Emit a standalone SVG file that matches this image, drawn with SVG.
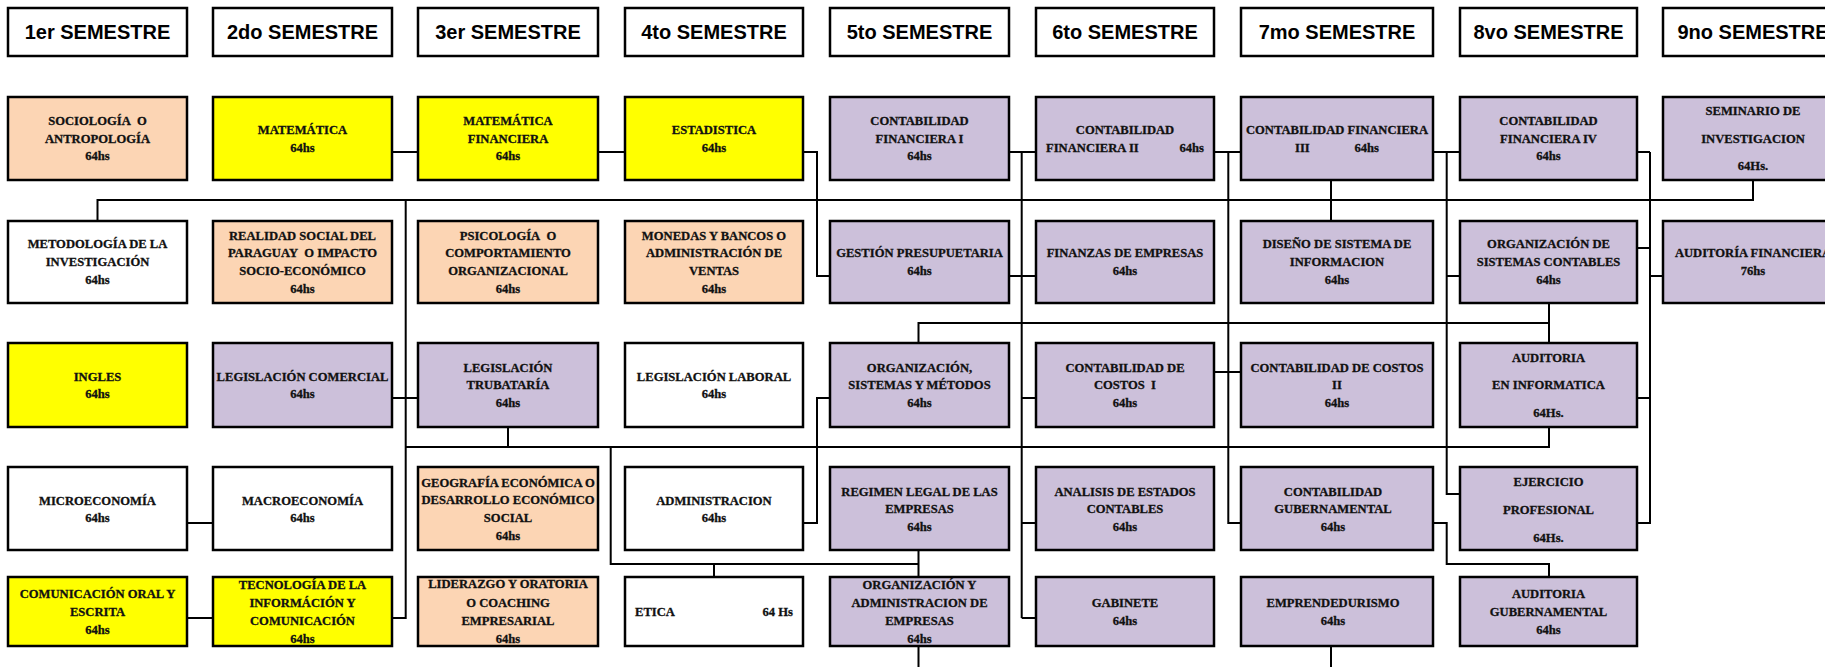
<svg xmlns="http://www.w3.org/2000/svg" width="1825" height="667" viewBox="0 0 1825 667">
<style>
.bx{stroke:#000;stroke-width:2.5}
.w{fill:#fff}.p{fill:#FCD5B4}.y{fill:#FFFF00}.l{fill:#CCC0DA}
.ht{font-family:"Liberation Sans",Arial,sans-serif;font-weight:bold;font-size:20px;text-anchor:middle;fill:#000}
.t{font-family:"Liberation Serif","Times New Roman",serif;font-weight:bold;font-size:12.6px;text-anchor:middle;fill:#111;stroke:#111;stroke-width:0.3}
.s{text-anchor:start}.e{text-anchor:end}
.c path{fill:none;stroke:#000;stroke-width:2}
</style>
<rect width="1825" height="667" fill="#fff"/>
<g id="headers">
<g id="h1"><rect class="bx w" x="8" y="8" width="179" height="48"/><text class="ht" x="97.5" y="39">1er SEMESTRE</text></g>
<g id="h2"><rect class="bx w" x="213" y="8" width="179" height="48"/><text class="ht" x="302.5" y="39">2do SEMESTRE</text></g>
<g id="h3"><rect class="bx w" x="418" y="8" width="180" height="48"/><text class="ht" x="508" y="39">3er SEMESTRE</text></g>
<g id="h4"><rect class="bx w" x="625" y="8" width="178" height="48"/><text class="ht" x="714" y="39">4to SEMESTRE</text></g>
<g id="h5"><rect class="bx w" x="830" y="8" width="179" height="48"/><text class="ht" x="919.5" y="39">5to SEMESTRE</text></g>
<g id="h6"><rect class="bx w" x="1036" y="8" width="178" height="48"/><text class="ht" x="1125" y="39">6to SEMESTRE</text></g>
<g id="h7"><rect class="bx w" x="1241" y="8" width="192" height="48"/><text class="ht" x="1337" y="39">7mo SEMESTRE</text></g>
<g id="h8"><rect class="bx w" x="1460" y="8" width="177" height="48"/><text class="ht" x="1548.5" y="39">8vo SEMESTRE</text></g>
<g id="h9"><rect class="bx w" x="1663" y="8" width="180" height="48"/><text class="ht" x="1753" y="39">9no SEMESTRE</text></g>
</g>
<g class="c" id="connectors">
<path d="M97.5,221V200H1753V180"/>
<path d="M392,152H418M598,152H625"/>
<path d="M803,152H817V276H830"/>
<path d="M405.7,200V618H392M392,398H418"/>
<path d="M405.7,447H1549V427M508,427V447"/>
<path d="M610.7,447V564H918.5M714,564V577M918.5,550V577M918.5,646V667"/>
<path d="M803,523H817V398H830"/>
<path d="M1021.7,152V618M1009,152H1036M1009,276H1036M1021.7,398H1036M1021.7,523H1036M1021.7,618H1036"/>
<path d="M918.5,343V323H1549M1549,303V343"/>
<path d="M1228.3,152V523H1241M1214,152H1241M1214,372H1241"/>
<path d="M1331,180V221M1331,646V667"/>
<path d="M1446.7,152V494H1460M1433,152H1460M1446.7,276H1460"/>
<path d="M1433,523H1446.7V564H1549V577"/>
<path d="M1650,152V523H1637M1637,152H1650M1637,248H1650M1650,276H1663M1637,398H1650"/>
<path d="M187,523H213M187,618H213"/>
</g>
<g id="n-r1c1"><rect class="bx p" x="8" y="97" width="179" height="83"/><text class="t"><tspan x="97.5" y="125">SOCIOLOGÍA&#160; O</tspan><tspan x="97.5" y="142.7">ANTROPOLOGÍA</tspan><tspan x="97.5" y="160.3">64hs</tspan></text></g>
<g id="n-r1c2"><rect class="bx y" x="213" y="97" width="179" height="83"/><text class="t"><tspan x="302.5" y="134">MATEMÁTICA</tspan><tspan x="302.5" y="152">64hs</tspan></text></g>
<g id="n-r1c3"><rect class="bx y" x="418" y="97" width="180" height="83"/><text class="t"><tspan x="508" y="125">MATEMÁTICA</tspan><tspan x="508" y="142.7">FINANCIERA</tspan><tspan x="508" y="160.3">64hs</tspan></text></g>
<g id="n-r1c4"><rect class="bx y" x="625" y="97" width="178" height="83"/><text class="t"><tspan x="714" y="134">ESTADISTICA</tspan><tspan x="714" y="152">64hs</tspan></text></g>
<g id="n-r1c5"><rect class="bx l" x="830" y="97" width="179" height="83"/><text class="t"><tspan x="919.5" y="125">CONTABILIDAD</tspan><tspan x="919.5" y="142.7">FINANCIERA I</tspan><tspan x="919.5" y="160.3">64hs</tspan></text></g>
<g id="n-r1c6"><rect class="bx l" x="1036" y="97" width="178" height="83"/><text class="t" x="1125" y="134">CONTABILIDAD</text><text class="t s" x="1046" y="152">FINANCIERA II</text><text class="t e" x="1204" y="152">64hs</text></g>
<g id="n-r1c7"><rect class="bx l" x="1241" y="97" width="192" height="83"/><text class="t" x="1337" y="134">CONTABILIDAD FINANCIERA</text><text class="t s" x="1295" y="152">III</text><text class="t e" x="1379" y="152">64hs</text></g>
<g id="n-r1c8"><rect class="bx l" x="1460" y="97" width="177" height="83"/><text class="t"><tspan x="1548.5" y="125">CONTABILIDAD</tspan><tspan x="1548.5" y="142.7">FINANCIERA IV</tspan><tspan x="1548.5" y="160.3">64hs</tspan></text></g>
<g id="n-r1c9"><rect class="bx l" x="1663" y="97" width="180" height="83"/><text class="t"><tspan x="1753" y="115">SEMINARIO DE</tspan><tspan x="1753" y="142.7">INVESTIGACION</tspan><tspan x="1753" y="170">64Hs.</tspan></text></g>
<g id="n-r2c1"><rect class="bx w" x="8" y="221" width="179" height="82"/><text class="t"><tspan x="97.5" y="248.3">METODOLOGÍA DE LA</tspan><tspan x="97.5" y="266">INVESTIGACIÓN</tspan><tspan x="97.5" y="284">64hs</tspan></text></g>
<g id="n-r2c2"><rect class="bx p" x="213" y="221" width="179" height="82"/><text class="t"><tspan x="302.5" y="240">REALIDAD SOCIAL DEL</tspan><tspan x="302.5" y="257.3">PARAGUAY&#160; O IMPACTO</tspan><tspan x="302.5" y="275">SOCIO-ECONÓMICO</tspan><tspan x="302.5" y="292.7">64hs</tspan></text></g>
<g id="n-r2c3"><rect class="bx p" x="418" y="221" width="180" height="82"/><text class="t"><tspan x="508" y="240">PSICOLOGÍA&#160; O</tspan><tspan x="508" y="257.3">COMPORTAMIENTO</tspan><tspan x="508" y="275">ORGANIZACIONAL</tspan><tspan x="508" y="292.7">64hs</tspan></text></g>
<g id="n-r2c4"><rect class="bx p" x="625" y="221" width="178" height="82"/><text class="t"><tspan x="714" y="240">MONEDAS Y BANCOS O</tspan><tspan x="714" y="257.3">ADMINISTRACIÓN DE</tspan><tspan x="714" y="275">VENTAS</tspan><tspan x="714" y="292.7">64hs</tspan></text></g>
<g id="n-r2c5"><rect class="bx l" x="830" y="221" width="179" height="82"/><text class="t"><tspan x="919.5" y="257.3">GESTIÓN PRESUPUETARIA</tspan><tspan x="919.5" y="275">64hs</tspan></text></g>
<g id="n-r2c6"><rect class="bx l" x="1036" y="221" width="178" height="82"/><text class="t"><tspan x="1125" y="257.3">FINANZAS DE EMPRESAS</tspan><tspan x="1125" y="275">64hs</tspan></text></g>
<g id="n-r2c7"><rect class="bx l" x="1241" y="221" width="192" height="82"/><text class="t"><tspan x="1337" y="248.3">DISEÑO DE SISTEMA DE</tspan><tspan x="1337" y="266">INFORMACION</tspan><tspan x="1337" y="284">64hs</tspan></text></g>
<g id="n-r2c8"><rect class="bx l" x="1460" y="221" width="177" height="82"/><text class="t"><tspan x="1548.5" y="248.3">ORGANIZACIÓN DE</tspan><tspan x="1548.5" y="266">SISTEMAS CONTABLES</tspan><tspan x="1548.5" y="284">64hs</tspan></text></g>
<g id="n-r2c9"><rect class="bx l" x="1663" y="221" width="180" height="82"/><text class="t"><tspan x="1753" y="257.3">AUDITORÍA FINANCIERA</tspan><tspan x="1753" y="275">76hs</tspan></text></g>
<g id="n-r3c1"><rect class="bx y" x="8" y="343" width="179" height="84"/><text class="t"><tspan x="97.5" y="380.7">INGLES</tspan><tspan x="97.5" y="398.3">64hs</tspan></text></g>
<g id="n-r3c2"><rect class="bx l" x="213" y="343" width="179" height="84"/><text class="t"><tspan x="302.5" y="380.7">LEGISLACIÓN COMERCIAL</tspan><tspan x="302.5" y="398.3">64hs</tspan></text></g>
<g id="n-r3c3"><rect class="bx l" x="418" y="343" width="180" height="84"/><text class="t"><tspan x="508" y="371.7">LEGISLACIÓN</tspan><tspan x="508" y="389.3">TRUBATARÍA</tspan><tspan x="508" y="407.3">64hs</tspan></text></g>
<g id="n-r3c4"><rect class="bx w" x="625" y="343" width="178" height="84"/><text class="t"><tspan x="714" y="380.7">LEGISLACIÓN LABORAL</tspan><tspan x="714" y="398.3">64hs</tspan></text></g>
<g id="n-r3c5"><rect class="bx l" x="830" y="343" width="179" height="84"/><text class="t"><tspan x="919.5" y="371.7">ORGANIZACIÓN,</tspan><tspan x="919.5" y="389.3">SISTEMAS Y MÉTODOS</tspan><tspan x="919.5" y="407.3">64hs</tspan></text></g>
<g id="n-r3c6"><rect class="bx l" x="1036" y="343" width="178" height="84"/><text class="t"><tspan x="1125" y="371.7">CONTABILIDAD DE</tspan><tspan x="1125" y="389.3">COSTOS&#160; I</tspan><tspan x="1125" y="407.3">64hs</tspan></text></g>
<g id="n-r3c7"><rect class="bx l" x="1241" y="343" width="192" height="84"/><text class="t"><tspan x="1337" y="371.7">CONTABILIDAD DE COSTOS</tspan><tspan x="1337" y="389.3">II</tspan><tspan x="1337" y="407.3">64hs</tspan></text></g>
<g id="n-r3c8"><rect class="bx l" x="1460" y="343" width="177" height="84"/><text class="t"><tspan x="1548.5" y="361.7">AUDITORIA</tspan><tspan x="1548.5" y="389.3">EN INFORMATICA</tspan><tspan x="1548.5" y="417.3">64Hs.</tspan></text></g>
<g id="n-r4c1"><rect class="bx w" x="8" y="467" width="179" height="83"/><text class="t"><tspan x="97.5" y="505">MICROECONOMÍA</tspan><tspan x="97.5" y="522.3">64hs</tspan></text></g>
<g id="n-r4c2"><rect class="bx w" x="213" y="467" width="179" height="83"/><text class="t"><tspan x="302.5" y="505">MACROECONOMÍA</tspan><tspan x="302.5" y="522.3">64hs</tspan></text></g>
<g id="n-r4c3"><rect class="bx p" x="418" y="467" width="180" height="83"/><text class="t"><tspan x="508" y="486.7">GEOGRAFÍA ECONÓMICA O</tspan><tspan x="508" y="504.3">DESARROLLO ECONÓMICO</tspan><tspan x="508" y="522">SOCIAL</tspan><tspan x="508" y="540">64hs</tspan></text></g>
<g id="n-r4c4"><rect class="bx w" x="625" y="467" width="178" height="83"/><text class="t"><tspan x="714" y="505">ADMINISTRACION</tspan><tspan x="714" y="522.3">64hs</tspan></text></g>
<g id="n-r4c5"><rect class="bx l" x="830" y="467" width="179" height="83"/><text class="t"><tspan x="919.5" y="495.7">REGIMEN LEGAL DE LAS</tspan><tspan x="919.5" y="513.3">EMPRESAS</tspan><tspan x="919.5" y="531">64hs</tspan></text></g>
<g id="n-r4c6"><rect class="bx l" x="1036" y="467" width="178" height="83"/><text class="t"><tspan x="1125" y="495.7">ANALISIS DE ESTADOS</tspan><tspan x="1125" y="513.3">CONTABLES</tspan><tspan x="1125" y="531">64hs</tspan></text></g>
<g id="n-r4c7"><rect class="bx l" x="1241" y="467" width="192" height="83"/><text class="t"><tspan x="1333" y="495.7">CONTABILIDAD</tspan><tspan x="1333" y="513.3">GUBERNAMENTAL</tspan><tspan x="1333" y="531">64hs</tspan></text></g>
<g id="n-r4c8"><rect class="bx l" x="1460" y="467" width="177" height="83"/><text class="t"><tspan x="1548.5" y="485.7">EJERCICIO</tspan><tspan x="1548.5" y="514">PROFESIONAL</tspan><tspan x="1548.5" y="541.7">64Hs.</tspan></text></g>
<g id="n-r5c1"><rect class="bx y" x="8" y="577" width="179" height="69"/><text class="t"><tspan x="97.5" y="598.3">COMUNICACIÓN ORAL Y</tspan><tspan x="97.5" y="616">ESCRITA</tspan><tspan x="97.5" y="634">64hs</tspan></text></g>
<g id="n-r5c2"><rect class="bx y" x="213" y="577" width="179" height="69"/><text class="t"><tspan x="302.5" y="589">TECNOLOGÍA DE LA</tspan><tspan x="302.5" y="606.7">INFORMÁCIÓN Y</tspan><tspan x="302.5" y="625">COMUNICACIÓN</tspan><tspan x="302.5" y="642.7">64hs</tspan></text></g>
<g id="n-r5c3"><rect class="bx p" x="418" y="577" width="180" height="69"/><text class="t"><tspan x="508" y="588.3">LIDERAZGO Y ORATORIA</tspan><tspan x="508" y="606.7">O COACHING</tspan><tspan x="508" y="625">EMPRESARIAL</tspan><tspan x="508" y="642.7">64hs</tspan></text></g>
<g id="n-r5c4"><rect class="bx w" x="625" y="577" width="178" height="69"/><text class="t s" x="635" y="615.7">ETICA</text><text class="t e" x="793" y="615.7">64 Hs</text></g>
<g id="n-r5c5"><rect class="bx l" x="830" y="577" width="179" height="69"/><text class="t"><tspan x="919.5" y="589">ORGANIZACIÓN Y</tspan><tspan x="919.5" y="606.7">ADMINISTRACION DE</tspan><tspan x="919.5" y="625">EMPRESAS</tspan><tspan x="919.5" y="642.7">64hs</tspan></text></g>
<g id="n-r5c6"><rect class="bx l" x="1036" y="577" width="178" height="69"/><text class="t"><tspan x="1125" y="606.7">GABINETE</tspan><tspan x="1125" y="625">64hs</tspan></text></g>
<g id="n-r5c7"><rect class="bx l" x="1241" y="577" width="192" height="69"/><text class="t"><tspan x="1333" y="606.7">EMPRENDEDURISMO</tspan><tspan x="1333" y="625">64hs</tspan></text></g>
<g id="n-r5c8"><rect class="bx l" x="1460" y="577" width="177" height="69"/><text class="t"><tspan x="1548.5" y="598.3">AUDITORIA</tspan><tspan x="1548.5" y="616">GUBERNAMENTAL</tspan><tspan x="1548.5" y="634">64hs</tspan></text></g>
</svg>
